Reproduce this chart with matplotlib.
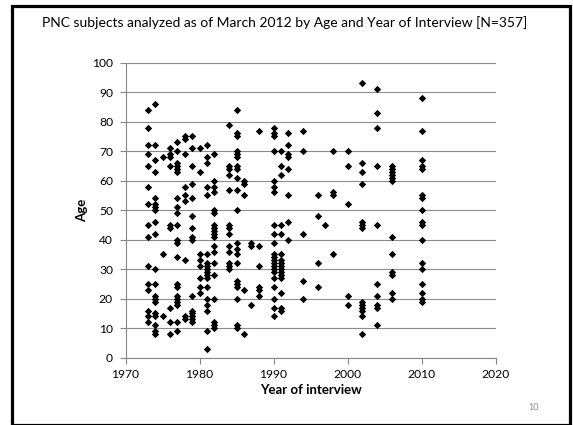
import matplotlib
matplotlib.use("Agg")
import matplotlib.pyplot as plt
from matplotlib.patches import Rectangle

# Ages of subjects, grouped by year of interview
ages_by_year = {
    1973: [84, 78, 72, 69, 65, 58, 52, 45, 41, 31, 25, 23, 16, 14, 12],
    1974: [86, 72, 67, 63, 54, 52, 51, 50, 46, 42, 30, 25, 21, 20, 19, 15, 14, 11, 9, 8],
    1975: [68, 35, 14],
    1976: [71, 69, 68, 65, 45, 44, 17, 12, 8],
    1977: [73, 70, 66, 65, 64, 63, 54, 51, 49, 45, 40, 39, 34, 25, 24, 21, 20, 19, 18, 12, 9],
    1978: [75, 74, 69, 58, 55, 53, 33, 14, 13],
    1979: [75, 71, 65, 59, 54, 48, 44, 41, 40, 21, 16, 15, 14, 13, 12],
    1980: [71, 63, 35, 33, 31, 27, 24, 22],
    1981: [72, 68, 66, 58, 55, 35, 32, 31, 30, 29, 28, 27, 24, 20, 18, 16, 9, 3],
    1982: [69, 60, 58, 56, 50, 49, 45, 44, 43, 42, 41, 38, 36, 32, 28, 20, 12, 11, 10],
    1984: [79, 65, 64, 62, 57, 45, 44, 42, 38, 36, 32, 31, 30],
    1985: [84, 76, 75, 70, 69, 68, 65, 64, 61, 57, 50, 39, 37, 35, 32, 26, 25, 24, 20, 11, 10],
    1986: [60, 59, 55, 23, 8],
    1987: [39, 38, 18],
    1988: [77, 38, 31, 24, 23, 21],
    1990: [78, 76, 75, 70, 60, 58, 56, 45, 42, 39, 35, 34, 33, 32, 31, 30, 29, 27, 24, 20, 17, 14],
    1991: [70, 65, 62, 45, 42, 35, 33, 32, 31, 30, 29, 28, 27, 22, 17, 16],
    1992: [76, 72, 69, 68, 64, 55, 46, 40],
    1994: [77, 70, 42, 26, 20],
    1996: [55, 48, 32, 24],
    1997: [45],
    1998: [70, 56, 55, 35],
    2000: [70, 65, 52, 21, 18],
    2002: [93, 66, 63, 59, 46, 45, 44, 19, 18, 17, 16, 14, 8],
    2004: [91, 83, 78, 65, 45, 25, 21, 18, 17, 11],
    2006: [65, 64, 63, 62, 61, 60, 41, 35, 29, 28, 22, 20],
    2010: [88, 77, 67, 65, 64, 55, 54, 50, 46, 45, 40, 32, 30, 25, 22, 20, 19],
}

x_ticks = [1970, 1980, 1990, 2000, 2010, 2020]
y_ticks = list(range(0, 101, 10))

title = "PNC subjects analyzed as of March 2012 by Age and Year of Interview [N=357]"
x_label = "Year of interview"
y_label = "Age"
page_number = "10"

years = [y for y, ages in ages_by_year.items() for _ in ages]
ages = [a for y, a_list in ages_by_year.items() for a in a_list]

plt.rcParams["font.family"] = ["Lato", "DejaVu Sans"]

W, H = 573, 425
fig = plt.figure(figsize=(W / 100, H / 100), dpi=100)
fig.patch.set_facecolor("white")

# slide frame
fig.patches.append(Rectangle((11.5 / W, 0.5 / H), 558 / W, 419 / H,
                             transform=fig.transFigure, fill=False,
                             edgecolor="black", linewidth=2.3))

ax = fig.add_axes([125.5 / W, (H - 357.7) / H, 370 / W, 295 / H])
ax.scatter(years, ages, marker="D", s=14, color="black", linewidths=0, zorder=3)

ax.set_xlim(1970, 2020)
ax.set_ylim(0, 100)
ax.set_xticks(x_ticks)
ax.set_yticks(y_ticks)
ax.grid(axis="y", color="#8c8c8c", linewidth=0.8)
ax.set_axisbelow(True)
for side in ("top", "right"):
    ax.spines[side].set_visible(False)
for side in ("left", "bottom"):
    ax.spines[side].set_color("#868686")
    ax.spines[side].set_linewidth(0.8)
ax.tick_params(axis="both", colors="#868686", length=4, width=0.8,
               labelcolor="black", labelsize=8.7)
ax.tick_params(axis="y", pad=5)
ax.tick_params(axis="x", pad=4)

ax.set_xlabel(x_label, fontsize=9.5, fontweight="bold", labelpad=3)
ax.set_ylabel(y_label, fontsize=9.5, fontweight="bold")
ax.yaxis.set_label_coords(-0.1, 0.5)

fig.text(285 / W, 1 - 23 / H, title, ha="center", va="center", fontsize=10)
fig.text(534 / W, 1 - 408 / H, page_number, ha="center", va="center",
         fontsize=6.5, color="#8c8c8c")

fig.savefig("out.png", dpi=100)
